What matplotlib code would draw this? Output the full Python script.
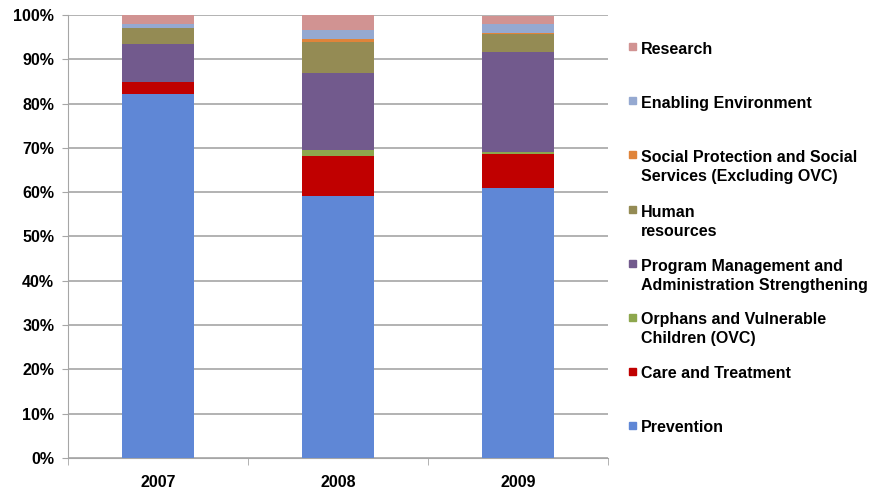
import matplotlib.pyplot as plt
from matplotlib.patches import Rectangle
import numpy as np

plt.rcParams['font.family'] = ['Liberation Sans', 'DejaVu Sans']
plt.rcParams['font.weight'] = 'bold'

# data (share of funding, %)
years = ['2007', '2008', '2009']
prevention = [82.2, 59.1, 60.9]
care_treatment = [2.7, 9.0, 7.8]
ovc = [0.05, 1.5, 0.3]
program_mgmt = [8.5, 17.2, 22.7]
human_resources = [3.6, 7.2, 3.9]
social_protection = [0.0, 0.6, 0.25]
enabling_env = [1.0, 2.05, 2.15]
research = [2.0, 3.3, 1.75]

series = [
    ('Prevention', prevention, '#5F87D6'),
    ('Care and Treatment', care_treatment, '#C00000'),
    ('Orphans and Vulnerable\nChildren (OVC)', ovc, '#8DA74D'),
    ('Program Management and\nAdministration Strengthening', program_mgmt, '#725A8D'),
    ('Human\nresources', human_resources, '#948B54'),
    ('Social Protection and Social\nServices (Excluding OVC)', social_protection, '#E0843A'),
    ('Enabling Environment', enabling_env, '#95A9D1'),
    ('Research', research, '#D19392'),
]

W, H = 872, 494
fig = plt.figure(figsize=(W / 100, H / 100), dpi=100)
ax = fig.add_axes([68 / W, 1 - 458 / H, 540 / W, 443 / H])

x = np.arange(len(years))
bottom = np.zeros(len(years))
for name, vals, color in series:
    ax.bar(x, vals, 0.405, bottom=bottom, color=color, zorder=3)
    bottom += np.array(vals)

ax.set_xlim(-0.5, 2.5)
ax.set_ylim(0, 100)
ax.set_yticks(np.arange(0, 101, 10))
ax.set_yticklabels([f'{v}%' for v in range(0, 101, 10)])
ax.set_xticks(x)
ax.set_xticklabels(years)
ax.set_xticks([-0.5, 0.5, 1.5, 2.5], minor=True)
ax.tick_params(axis='x', which='major', length=0, pad=12, labelsize=11.5)
ax.tick_params(axis='x', which='minor', length=5, color='#A6A6A6', direction='out')
ax.tick_params(axis='y', length=4, color='#A6A6A6', direction='out', pad=6, labelsize=11.5)
ax.grid(axis='y', color='#A6A6A6', linewidth=1.2, zorder=0)
for s in ['top', 'right']:
    ax.spines[s].set_visible(False)
for s in ['left', 'bottom']:
    ax.spines[s].set_color('#A6A6A6')

# legend drawn by hand (top entry = last series)
baselines = [54, 107.7, 161.7, 216.7, 270.7, 324, 378.3, 432.3]
line_step = 19
for (name, vals, color), yb in zip(series[::-1], baselines):
    n_lines = name.count('\n') + 1
    fig.patches.append(Rectangle((629 / W, 1 - (yb - 3.5) / H), 7 / W, 7 / H,
                                 transform=fig.transFigure, color=color))
    fig.text(641 / W, 1 - (yb + line_step * (n_lines - 1)) / H, name, fontsize=11.5,
             fontweight='bold', va='baseline', ha='left', linespacing=1.32)

plt.savefig('out.png', dpi=100)
